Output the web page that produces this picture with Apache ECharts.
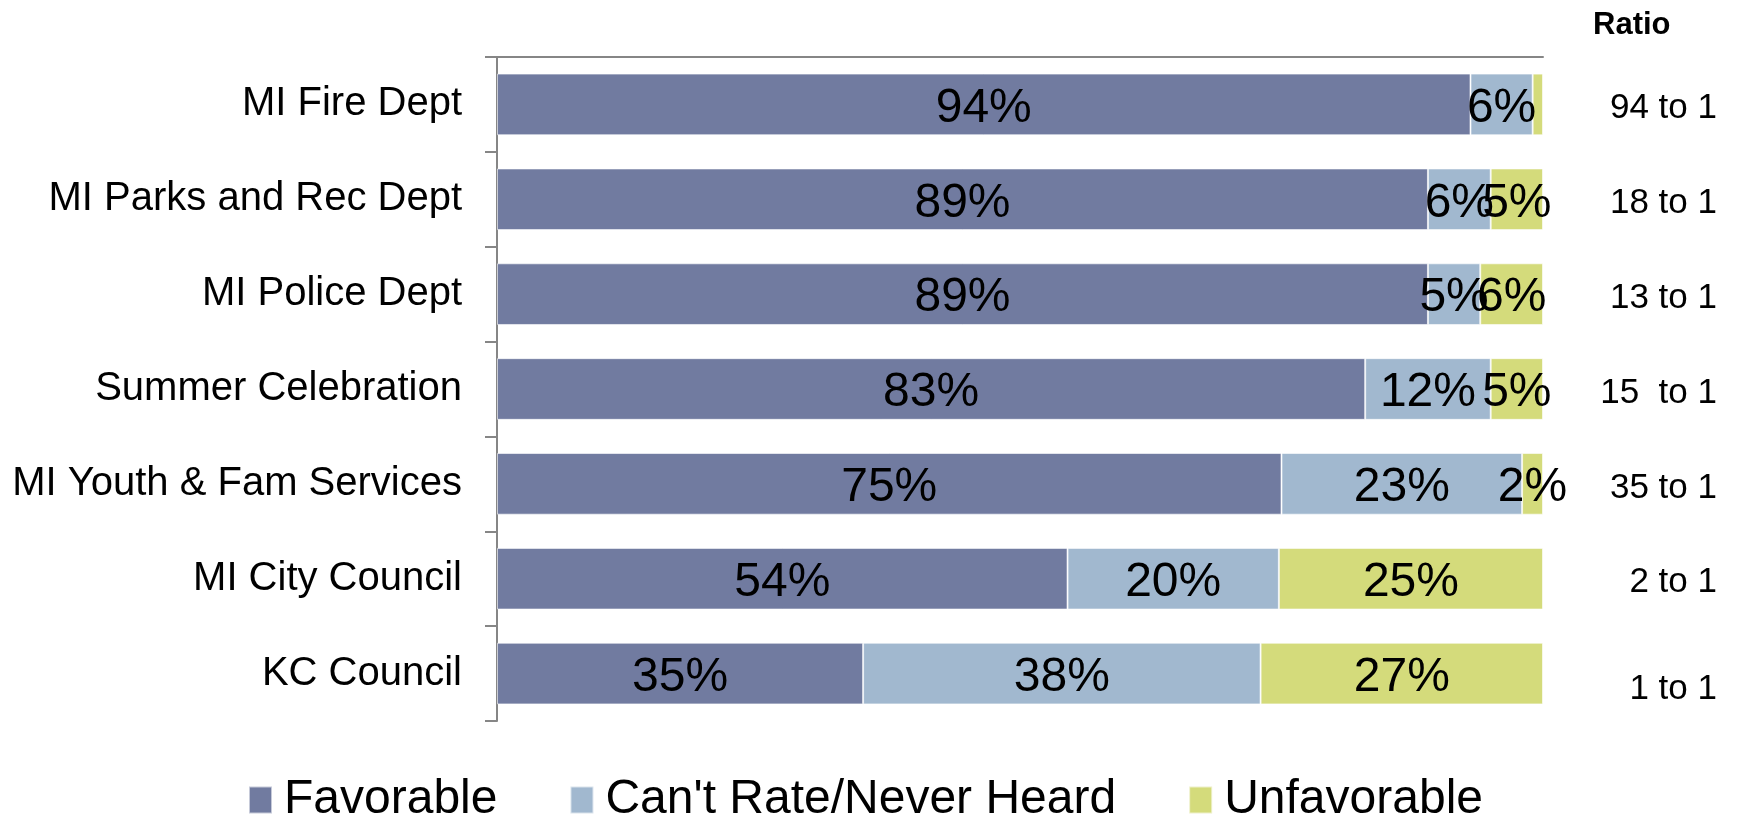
<!DOCTYPE html>
<html>
<head>
<meta charset="utf-8">
<script src="https://cdn.jsdelivr.net/npm/echarts@6/dist/echarts.min.js"></script>
<style>
html,body{margin:0;padding:0;background:#fff;}
#chart{width:1738px;height:815px;}
</style>
</head>
<body>
<div id="chart"></div>
<script>
const categories = ['MI Fire Dept','MI Parks and Rec Dept','MI Police Dept','Summer Celebration','MI Youth & Fam Services','MI City Council','KC Council'];
const favorable = [94, 89, 89, 83, 75, 54, 35];
const cantRate = [6, 6, 5, 12, 23, 20, 38];
const unfavorable = [1, 5, 6, 5, 2, 25, 27];
const ratios = ['94 to 1','18 to 1','13 to 1','15  to 1','35 to 1','2 to 1','1 to 1'];
const seriesNames = ['Favorable', "Can't Rate/Never Heard", 'Unfavorable'];

const FONT = '"Liberation Sans", Arial, sans-serif';
const colors = ['#717BA0', '#A1B8CF', '#D4DB7B'];
const raw = [favorable, cantRate, unfavorable];
const totals = categories.map((c, i) => favorable[i] + cantRate[i] + unfavorable[i]);

const chart = echarts.init(document.getElementById('chart'));
const series = raw.map((arr, s) => ({
  name: seriesNames[s],
  type: 'bar',
  stack: 'total',
  barCategoryGap: '35%',
  itemStyle: { color: colors[s], borderColor: 'rgba(255,255,255,0.6)', borderWidth: 1 },
  label: {
    show: true,
    position: 'inside',
    offset: [0, 4],
    color: '#000',
    fontSize: 48,
    fontFamily: FONT,
    formatter: p => arr[p.dataIndex] >= 2 ? arr[p.dataIndex] + '%' : ''
  },
  data: arr.map((v, i) => ({ value: v / totals[i] * 100 })),
  animation: false
}));

chart.setOption({
  animation: false,
  color: colors,
  title: {
    text: 'Ratio',
    left: 1588,
    top: 5,
    textStyle: { fontFamily: FONT, fontSize: 31, fontWeight: 'bold', color: '#000' }
  },
  grid: { left: 497, right: 195, top: 57, bottom: 94, containLabel: false },
  legend: {
    data: seriesNames,
    left: 243,
    top: 771,
    icon: 'rect',
    itemWidth: 23,
    itemHeight: 27,
    itemGap: 72,
    textStyle: { fontFamily: FONT, fontSize: 48, color: '#000', padding: [0, 0, 0, 7] }
  },
  xAxis: {
    type: 'value',
    position: 'top',
    min: 0,
    max: 100,
    axisLine: { show: true, lineStyle: { color: '#868686', width: 2 } },
    axisTick: { show: false },
    axisLabel: { show: false },
    splitLine: { show: false }
  },
  yAxis: [{
    type: 'category',
    data: categories,
    inverse: true,
    axisLine: { show: true, lineStyle: { color: '#868686', width: 2 } },
    axisTick: { show: true, length: 12, lineStyle: { color: '#868686', width: 2 } },
    axisLabel: { fontFamily: FONT, fontSize: 40, color: '#000', margin: 35, padding: [9, 0, 0, 0] }
  }, {
    type: 'category',
    data: ratios,
    inverse: true,
    position: 'right',
    axisLine: { show: false },
    axisTick: { show: false },
    axisLabel: {
      fontFamily: FONT, fontSize: 35, color: '#000', align: 'right', margin: 174,
      formatter: (v, i) => i === ratios.length - 1 ? '{low|' + v + '}' : '{n|' + v + '}',
      rich: {
        n: { fontFamily: FONT, fontSize: 35, color: '#000', padding: [8, 0, 0, 0] },
        low: { fontFamily: FONT, fontSize: 35, color: '#000', padding: [32, 0, 0, 0] }
      }
    }
  }],
  series: series
});
</script>
</body>
</html>
